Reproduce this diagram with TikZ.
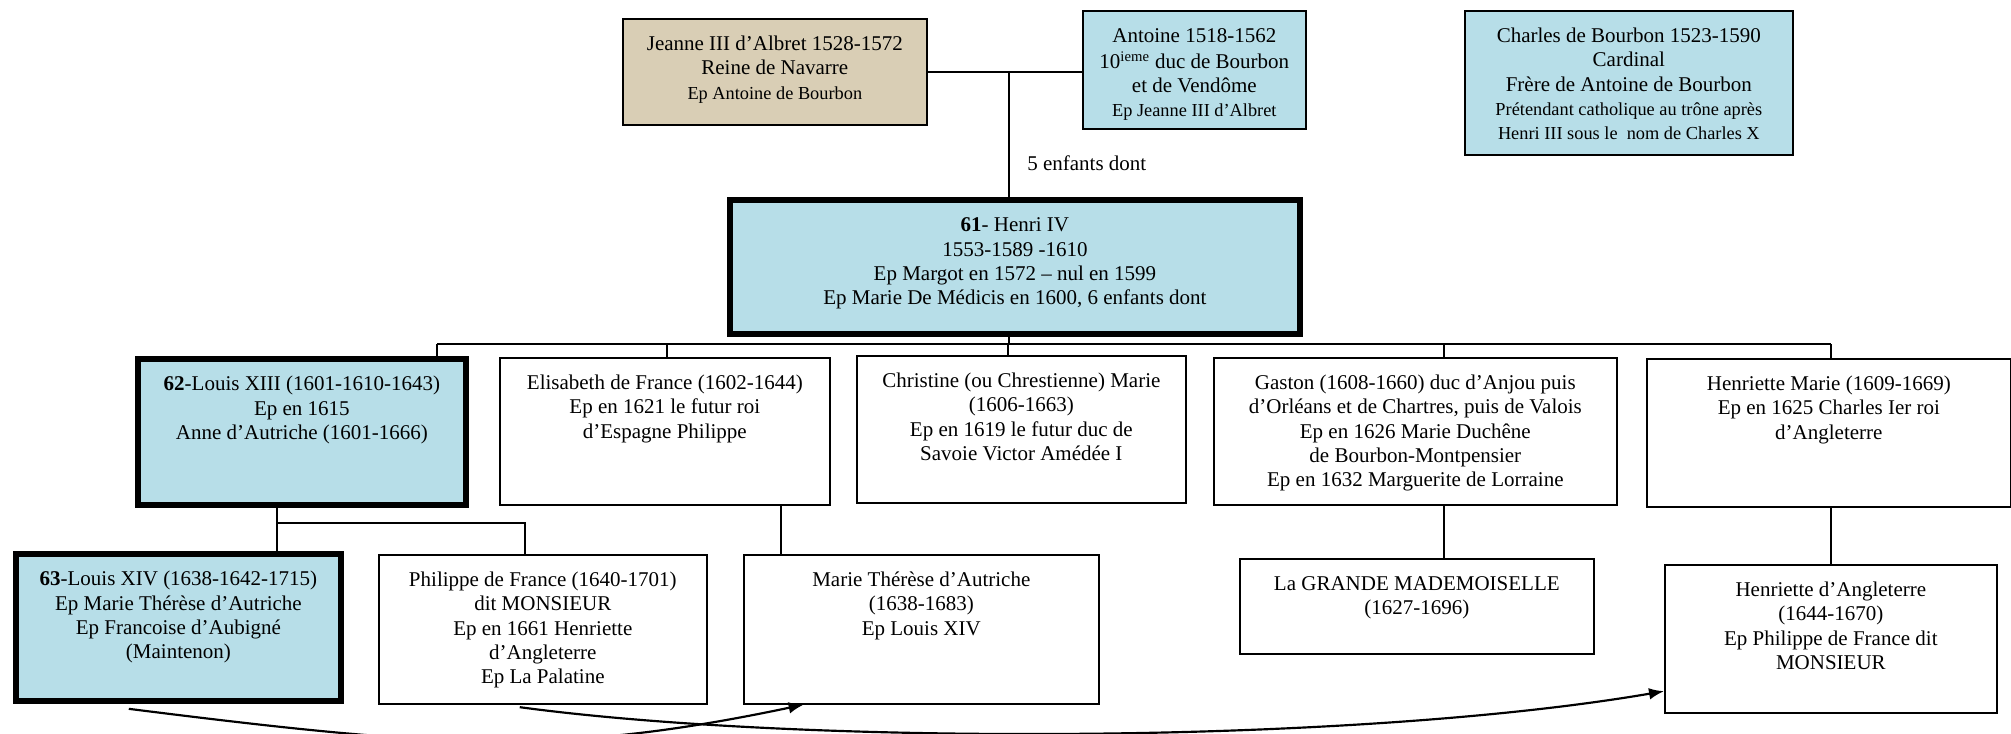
\documentclass[tikz,border=0pt]{standalone}
\usepackage{fontspec}
\setmainfont{Liberation Serif}
\usepackage{tikz}
\usepackage{xcolor}
\usetikzlibrary{
  positioning, arrows.meta, calc,
}
\definecolor{cBleu}   {HTML}{B7DEE8}
\definecolor{cToile}  {HTML}{D9CEB5}
% box of W x H (px), text at the top
\newcommand{\fiche}[3]{\parbox[t][\dimexpr #2pt*3/5\relax][t]{\dimexpr #1pt*3/5\relax}{%
  \fontsize{12.6}{14.5}\selectfont\centering\vspace*{9pt}\strut #3}}
\newcommand{\petit}{\fontsize{11}{14.5}\selectfont}

\begin{document}
\begin{tikzpicture}[x=0.6pt, y=-0.6pt,
    boite/.style={draw, line width=1pt, inner sep=0pt, anchor=north west},
    roi/.style={boite, line width=3.5pt, fill=cBleu},
    lien/.style={line width=0.9pt},
    fleche/.style={line width=1.3pt, -{Latex[length=9pt, width=7pt]}},
    texte/.style={font=\fontsize{12.6}{14.5}\selectfont, inner sep=0pt}]
  \useasboundingbox (0,0) rectangle (2011,733);
  \clip (0,0) rectangle (2011,733);

  % parents
  \node[boite, fill=cToile] (jeanne) at (622,18)
        {\fiche{304}{106}{Jeanne III d’Albret 1528-1572\\ Reine de Navarre\\
         {\petit Ep Antoine de Bourbon}}};
  \node[boite, fill=cBleu] (antoine) at (1082,10)
        {\fiche{223}{118}{Antoine 1518-1562\\ 10\textsuperscript{ieme} duc de Bourbon\\
         et de Vendôme\\ {\petit Ep Jeanne III d’Albret}}};
  \node[boite, fill=cBleu] (charles) at (1464,10)
        {\fiche{328}{144}{Charles de Bourbon 1523-1590\\ Cardinal\\ Frère de Antoine de Bourbon\\
         {\petit Prétendant catholique au trône après}\\ {\petit Henri III sous le~ nom de Charles X}}};
  \node[texte, anchor=west] (cinq) at (1027,163) {5 enfants dont};

  % Henri IV
  \node[roi] (henri) at (727,197)
        {\fiche{570}{134}{\textbf{61}- Henri IV\\ 1553-1589 -1610\\
         Ep Margot en 1572 – nul en 1599\\ Ep Marie De Médicis en 1600, 6 enfants dont}};

  % enfants de Henri IV
  \node[roi] (louis13) at (135,356)
        {\fiche{328}{146}{\textbf{62}-Louis XIII (1601-1610-1643)\\ Ep en 1615\\
         Anne d’Autriche (1601-1666)}};
  \node[boite] (elisabeth) at (499,357)
        {\fiche{330}{147}{Elisabeth de France (1602-1644)\\ Ep en 1621 le futur roi\\
         d’Espagne Philippe}};
  \node[boite] (christine) at (856,355)
        {\fiche{329}{147}{Christine (ou Chrestienne) Marie\\ (1606-1663)\\
         Ep en 1619 le futur duc de\\ Savoie Victor Amédée I}};
  \node[boite] (gaston) at (1213,357)
        {\fiche{403}{147}{Gaston (1608-1660) duc d’Anjou puis\\
         d’Orléans et de Chartres, puis de Valois\\ Ep en 1626 Marie Duchêne\\
         de Bourbon-Montpensier\\ Ep en 1632 Marguerite de Lorraine}};
  \node[boite] (henriette) at (1646,358)
        {\fiche{364}{148}{Henriette Marie (1609-1669)\\ Ep en 1625 Charles Ier roi\\
         d’Angleterre}};

  % petits-enfants
  \node[roi] (louis14) at (13,551)
        {\fiche{325}{147}{\textbf{63}-Louis XIV (1638-1642-1715)\\ Ep Marie Thérèse d’Autriche\\
         Ep Francoise d’Aubigné\\ (Maintenon)}};
  \node[boite] (philippe) at (378,554)
        {\fiche{328}{149}{Philippe de France (1640-1701)\\ dit MONSIEUR\\
         Ep en 1661 Henriette\\ d’Angleterre\\ Ep La Palatine}};
  \node[boite] (marie) at (743,554)
        {\fiche{355}{149}{Marie Thérèse d’Autriche\\ (1638-1683)\\ Ep Louis XIV}};
  \node[boite] (mademoiselle) at (1239,558)
        {\fiche{354}{95}{La GRANDE MADEMOISELLE\\ (1627-1696)}};
  \node[boite] (angleterre) at (1664,564)
        {\fiche{332}{148}{Henriette d’Angleterre\\ (1644-1670)\\
         Ep Philippe de France dit\\ MONSIEUR}};

  % liens de filiation
  \coordinate (couple) at (1009,71);
  \coordinate (fratrie) at (1009,344);
  \coordinate (f1) at (437,344);
  \coordinate (f5) at (1831,344);
  \draw[lien] (jeanne.east) -- (jeanne.east -| antoine.west);
  \draw[lien] (couple) -- (couple |- henri.north);
  \draw[lien] (fratrie |- henri.south) -- (fratrie);
  \draw[lien] (f1) -- (f5);
  \foreach \x/\n in {437/louis13, 667/elisabeth, 1008/christine, 1444/gaston, 1831/henriette}
    \draw[lien] (\x,344) -- (\x,344 |- \n.north);

  \coordinate (g1) at (277,523);
  \coordinate (g2) at (525,523);
  \draw[lien] (g1 |- louis13.south) -- (g1) -- (g2) -- (g2 |- philippe.north);
  \draw[lien] (g1) -- (g1 |- louis14.north);
  \foreach \x/\a/\b in {781/elisabeth/marie, 1444/gaston/mademoiselle, 1831/henriette/angleterre}
    \draw[lien] (\x,0 |- \a.south) -- (\x,0 |- \b.north);

  % mariages
  \draw[fleche] ([yshift=-3pt]$(louis14.south west)!0.35!(louis14.south east)$)
        .. controls (440,748) and (560,756) .. ($(marie.south west)!0.17!(marie.south east)$);
  \draw[fleche] ([yshift=-1.5pt]$(philippe.south west)!0.43!(philippe.south east)$)
        .. controls (800,745) and (1350,745) .. ($(angleterre.north west)!0.85!(angleterre.south west)$);
\end{tikzpicture}
\end{document}
